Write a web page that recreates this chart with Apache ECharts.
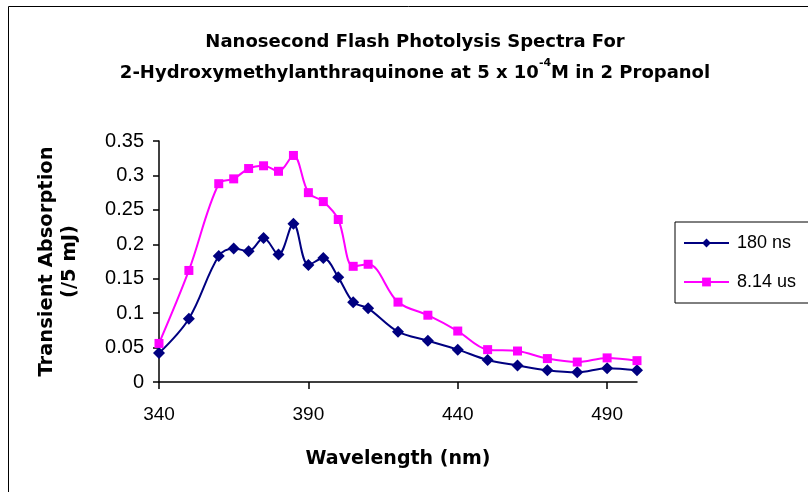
<!DOCTYPE html>
<html>
<head>
<meta charset="utf-8">
<script src="https://cdn.jsdelivr.net/npm/echarts@6/dist/echarts.min.js"></script>
<style>
html,body{margin:0;padding:0;background:#fff;}
#chart{width:808px;height:492px;}
</style>
</head>
<body>
<div id="chart"></div>
<script>
var wavelengths = [340,350,360,365,370,375,380,385,390,395,400,405,410,420,430,440,450,460,470,480,490,500];
var series180ns = [0.042,0.092,0.183,0.194,0.190,0.209,0.185,0.230,0.170,0.180,0.152,0.116,0.107,0.073,0.060,0.047,0.032,0.024,0.017,0.014,0.020,0.017];
var series814us = [0.056,0.162,0.288,0.295,0.310,0.314,0.306,0.329,0.275,0.262,0.236,0.168,0.171,0.116,0.097,0.074,0.047,0.045,0.034,0.029,0.035,0.031];
var xTickValues = [340,390,440,490];
var seriesNames = ['180 ns','8.14 us'];

function pairs(xs, ys){ return xs.map(function(x,i){ return [x, ys[i]]; }); }

var font = 'Liberation Sans, Arial, sans-serif';
var boldFont = 'DejaVu Sans, Liberation Sans, sans-serif';
var chart = echarts.init(document.getElementById('chart'), null, {renderer:'canvas'});
chart.setOption({
  backgroundColor:'#fff',
  animation:false,
  graphic:[{
    type:'rect', left:6, top:4,
    shape:{x:0,y:0,width:900,height:600},
    style:{fill:'none', stroke:'#000', lineWidth:1}
  }],
  title:{
    text:'Nanosecond Flash Photolysis Spectra For\n2-Hydroxymethylanthraquinone at 5 x 10{sup|-4}M in 2 Propanol',
    left:410, top:22, textAlign:'center',
    textStyle:{
      fontFamily:boldFont, fontWeight:'bold', fontSize:18, color:'#000', lineHeight:31,
      rich:{ sup:{fontFamily:boldFont, fontWeight:'bold', fontSize:11, color:'#000', verticalAlign:'top', lineHeight:31, padding:[0,0,10,0]} }
    }
  },
  legend:{
    orient:'vertical', left:675, top:222,
    padding:[12,60,12,8], itemGap:21,
    borderColor:'#000', borderWidth:1,
    itemWidth:45, itemHeight:11,
    textStyle:{fontFamily:font, fontSize:18, color:'#000', padding:[0,0,0,3]},
    data:seriesNames
  },
  grid:{left:159, right:171, top:141, bottom:110, containLabel:false},
  xAxis:{
    type:'value', min:340, max:500,
    name:'Wavelength (nm)', nameLocation:'middle', nameGap:68,
    nameTextStyle:{fontFamily:boldFont, fontWeight:'bold', fontSize:19, color:'#000'},
    axisLine:{onZero:false, lineStyle:{color:'#000', width:1.5}},
    axisTick:{show:true, inside:false, length:7, customValues:xTickValues, lineStyle:{color:'#000', width:1.5}},
    axisLabel:{customValues:xTickValues, fontFamily:font, fontSize:19, color:'#000', margin:23},
    splitLine:{show:false}
  },
  yAxis:{
    type:'value', min:0, max:0.35, interval:0.05,
    name:'Transient Absorption\n(/5 mJ)', nameLocation:'middle', nameGap:78,
    nameTextStyle:{fontFamily:boldFont, fontWeight:'bold', fontSize:19.5, color:'#000', lineHeight:23},
    axisLine:{show:true, lineStyle:{color:'#000', width:1.5}},
    axisTick:{show:true, inside:false, length:6, lineStyle:{color:'#000', width:1.5}},
    axisLabel:{fontFamily:font, fontSize:20, color:'#000', margin:15},
    splitLine:{show:false}
  },
  series:[{
    name:seriesNames[0], type:'line', smooth:0.35,
    data:pairs(wavelengths, series180ns),
    symbol:'diamond', symbolSize:12,
    itemStyle:{color:'#000080'},
    lineStyle:{color:'#000080', width:2}
  },{
    name:seriesNames[1], type:'line', smooth:0.35,
    data:pairs(wavelengths, series814us),
    symbol:'rect', symbolSize:9,
    itemStyle:{color:'#ff00ff'},
    lineStyle:{color:'#ff00ff', width:2}
  }]
});
</script>
</body>
</html>
